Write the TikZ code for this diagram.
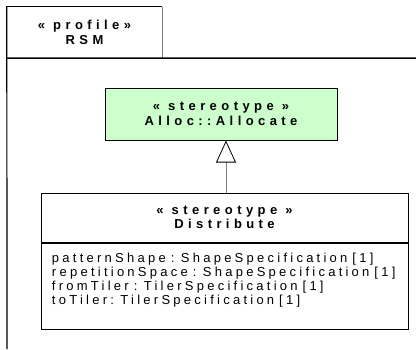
\documentclass[tikz,border=0pt]{standalone}
\usepackage{fontspec}
\newfontfamily\umlfont{Liberation Sans}[LetterSpace=25]
\newfontfamily\umlbold{Liberation Sans Bold}[LetterSpace=34, WordSpace=1.0]
\newcommand{\attrfont}{\umlfont\fontsize{13pt}{14pt}\selectfont}
\newcommand{\wsp}{\hspace{5pt}}
\usetikzlibrary{arrows.meta,positioning}
\definecolor{allocgreen}{HTML}{CCFFCC}
\definecolor{edgegray}{HTML}{808080}

\begin{document}
\begin{tikzpicture}[
  x=1pt, y=-1pt,
  every node/.style={inner sep=0pt, font=\umlfont\fontsize{13pt}{14pt}\selectfont},
  frame/.style={draw, line width=1.5pt},
  tabedge/.style={draw=edgegray, line width=0.8pt},
  % class boxes: bold head, plain attribute list below it
  head/.style={draw, line width=1pt, align=center,
    font=\umlbold\fontsize{13pt}{14.5pt}\selectfont},
  attrs/.style={draw, line width=1pt, align=left, anchor=north,
    text width=345pt, inner xsep=11pt, inner ysep=10pt,
    text height=9pt, text depth=57pt, font=\attrfont},
  gen/.style={draw=edgegray, line width=0.8pt,
    -{Triangle[width=20pt, length=22pt, fill=white, color=black]}}]

  \useasboundingbox (0,0) rectangle (416,349);

  % package frame
  \node[align=center, minimum width=155pt, minimum height=51pt,
    font=\umlbold\fontsize{13pt}{15pt}\selectfont] (rsm) at (84.5,32.5) {« profile»\\RSM};
  \coordinate (frameEnd)  at (416,58);
  \coordinate (frameFoot) at (7,349);
  \draw[line width=1pt] (rsm.south west) |- (rsm.north east);
  \draw[tabedge] (rsm.north east) -- (rsm.south east);
  \draw[frame] (rsm.south west) -- (frameEnd);
  \draw[line width=1.2pt] (rsm.north west) -- (frameFoot);

  % vertices
  \node[head, fill=allocgreen, minimum width=232pt, minimum height=52pt] (alloc) at (221,114)
    {« stereotype »\\Alloc::Allocate};
  \node[head, minimum width=367pt, minimum height=49pt] (distHead) at (224.5,217.5)
    {« stereotype »\\Distribute};
  \node[attrs] (distAttrs) at (distHead.south)
    {\mbox{patternShape\wsp: ShapeSpecification\wsp[1]}\\
     \mbox{repetitionSpace\wsp: ShapeSpecification\wsp[1]}\\
     \mbox{fromTiler\wsp: TilerSpecification\wsp[1]}\\
     \mbox{toTiler: TilerSpecification\wsp[1]}};

  % arrows
  \draw[gen] ([xshift=1.5pt]distHead.north) -- ([xshift=1.5pt]distHead.north |- alloc.south);
\end{tikzpicture}
\end{document}
